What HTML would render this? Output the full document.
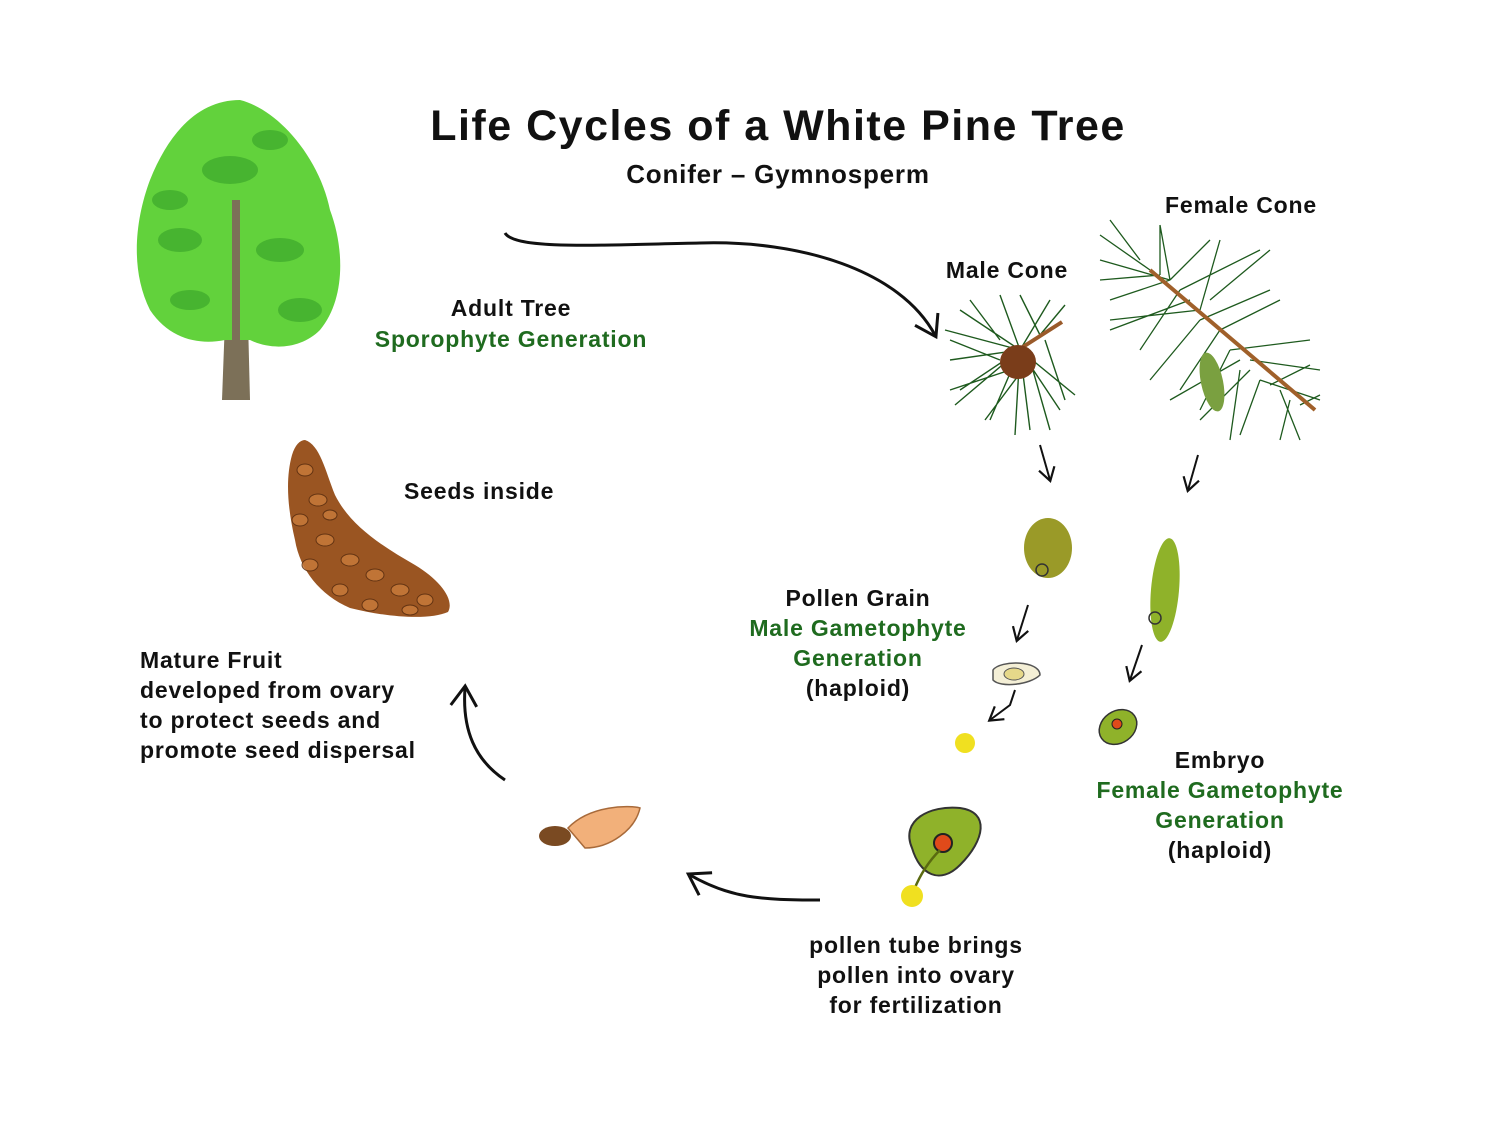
<!DOCTYPE html>
<html><head><meta charset="utf-8"><style>
html,body{margin:0;padding:0;background:#fff}
svg{display:block}
text{font-family:"Liberation Sans",sans-serif;fill:#111;letter-spacing:0.8px}
.g{fill:#1f6b1f}
</style></head><body>
<svg width="1500" height="1125" viewBox="0 0 1500 1125" xmlns="http://www.w3.org/2000/svg">
<defs>
<marker id="ahb" markerWidth="30" markerHeight="30" refX="20" refY="15" orient="auto" markerUnits="userSpaceOnUse" viewBox="0 0 30 30">
<path d="M2,2 L22,15 L2,28" fill="none" stroke="#111" stroke-width="3"/></marker>
<marker id="ahs" markerWidth="20" markerHeight="20" refX="14" refY="10" orient="auto" markerUnits="userSpaceOnUse" viewBox="0 0 20 20">
<path d="M2,2 L15,10 L2,18" fill="none" stroke="#111" stroke-width="2.2"/></marker>
</defs>

<!-- title -->
<text x="778" y="140" font-size="43" font-weight="bold" text-anchor="middle" style="letter-spacing:1.5px">Life Cycles of a White Pine Tree</text>
<text x="778" y="183" font-size="26" font-weight="bold" text-anchor="middle">Conifer – Gymnosperm</text>
<text x="1241" y="213" font-size="23" font-weight="bold" text-anchor="middle">Female Cone</text>
<text x="1007" y="278" font-size="23" font-weight="bold" text-anchor="middle">Male Cone</text>
<text x="511" y="316" font-size="23" font-weight="bold" text-anchor="middle">Adult Tree</text>
<text x="511" y="347" font-size="23" font-weight="bold" text-anchor="middle" class="g">Sporophyte Generation</text>
<text x="404" y="499" font-size="23" font-weight="bold">Seeds inside</text>
<g font-size="23" font-weight="bold" text-anchor="middle">
<text x="858" y="606">Pollen Grain</text>
<text x="858" y="636" class="g">Male Gametophyte</text>
<text x="858" y="666" class="g">Generation</text>
<text x="858" y="696">(haploid)</text>
<text x="1220" y="768">Embryo</text>
<text x="1220" y="798" class="g">Female Gametophyte</text>
<text x="1220" y="828" class="g">Generation</text>
<text x="1220" y="858">(haploid)</text>
<text x="916" y="953">pollen tube brings</text>
<text x="916" y="983">pollen into ovary</text>
<text x="916" y="1013">for fertilization</text>
</g>
<g font-size="23" font-weight="bold">
<text x="140" y="668">Mature Fruit</text>
<text x="140" y="698">developed from ovary</text>
<text x="140" y="728">to protect seeds and</text>
<text x="140" y="758">promote seed dispersal</text>
</g>

<!-- tree -->
<path d="M228,240 L246,240 L250,400 L222,400 Z" fill="#7c7058"/>
<path d="M240,100 C280,110 320,160 330,210 C345,250 345,300 320,330 C300,350 270,350 250,340 L225,340 C200,345 170,340 150,310 C130,270 135,220 150,180 C170,130 200,100 240,100Z" fill="#62d23c"/>
<g fill="#3faa2c" opacity=".75">
<ellipse cx="230" cy="170" rx="28" ry="14"/><ellipse cx="280" cy="250" rx="24" ry="12"/><ellipse cx="180" cy="240" rx="22" ry="12"/><ellipse cx="300" cy="310" rx="22" ry="12"/><ellipse cx="190" cy="300" rx="20" ry="10"/><ellipse cx="270" cy="140" rx="18" ry="10"/><ellipse cx="170" cy="200" rx="18" ry="10"/>
</g>
<path d="M236,200 L236,340" stroke="#7c7058" stroke-width="8"/>

<!-- big arrow top -->
<path d="M505,233 C515,250 600,245 700,243 C800,240 900,270 935,335" fill="none" stroke="#111" stroke-width="3" marker-end="url(#ahb)"/>

<!-- male cone branch -->
<g stroke="#1e5a1e" stroke-width="1.4" fill="none">
<path d="M1020,350 l-60,-40 M1020,350 l-70,10 M1020,350 l-60,40 M1020,350 l-30,70 M1020,350 l10,80 M1020,350 l40,60 M1020,350 l30,-50 M1020,350 l-20,-55 M1020,350 l-75,-20 M1020,350 l-65,55 M1020,350 l-5,85 M1020,350 l55,45 M1040,335 l-20,-40 M1040,335 l25,-30 M1030,360 l-45,60 M1030,360 l20,70 M1000,360 l-50,-20 M1010,370 l-60,20 M1045,340 l20,60 M1000,340 l-30,-40"/>
</g>
<path d="M1062,322 L1015,352" stroke="#9a5a2a" stroke-width="4"/>
<ellipse cx="1018" cy="362" rx="18" ry="17" fill="#7a3d1a"/>

<!-- female cone branch -->
<g stroke="#1e5a1e" stroke-width="1.3" fill="none">
<path d="M1170,280 l-70,-20 M1170,280 l-60,20 M1170,280 l-10,-55 M1170,280 l40,-40 M1200,320 l-50,60 M1200,320 l70,-30 M1230,350 l-30,60 M1230,350 l80,-10 M1260,380 l-20,55 M1260,380 l60,20 M1150,270 l-50,-35 M1210,300 l60,-50 M1250,360 l70,10 M1240,370 l-10,70 M1190,300 l-80,30 M1280,390 l20,50 M1160,275 l-60,5 M1180,290 l-40,60 M1180,290 l80,-40 M1220,330 l60,-30 M1220,330 l-40,60 M1250,370 l-50,50 M1270,385 l40,-20 M1290,400 l-10,40 M1140,260 l-30,-40 M1200,310 l-90,10 M1240,360 l-70,40 M1300,405 l20,-10 M1200,310 l20,-70 M1160,275 l0,-50"/>
</g>
<path d="M1150,270 L1315,410" stroke="#a0602a" stroke-width="4"/>
<ellipse cx="1212" cy="382" rx="11" ry="30" fill="#7aa040" transform="rotate(-12 1212 382)"/>

<!-- small arrows -->
<g stroke="#111" stroke-width="2" fill="none" marker-end="url(#ahs)">
<path d="M1040,445 L1050,480"/>
<path d="M1198,455 L1188,490"/>
<path d="M1028,605 L1017,640"/>
<path d="M1142,645 L1130,680"/>
<path d="M1015,690 L1010,705 L990,720"/>
</g>

<!-- gametophytes -->
<ellipse cx="1048" cy="548" rx="24" ry="30" fill="#9a9a28"/>
<circle cx="1042" cy="570" r="6" fill="none" stroke="#333" stroke-width="1.5"/>
<ellipse cx="1165" cy="590" rx="14" ry="52" fill="#8fb22a" transform="rotate(5 1165 590)"/>
<circle cx="1155" cy="618" r="6" fill="none" stroke="#333" stroke-width="1.5"/>
<path d="M993,670 C1000,660 1040,660 1040,675 C1030,685 1000,688 993,680Z" fill="#f4efd6" stroke="#555" stroke-width="1.5"/>
<ellipse cx="1014" cy="674" rx="10" ry="6" fill="#e6d88a" stroke="#555"/>
<circle cx="965" cy="743" r="10" fill="#f0e020"/>
<ellipse cx="1118" cy="727" rx="20" ry="16" fill="#8fb22a" stroke="#333" stroke-width="1.5" transform="rotate(-35 1118 727)"/>
<circle cx="1117" cy="724" r="5" fill="#e04a1a" stroke="#222"/>
<path d="M912,848 C900,820 930,805 960,808 C990,812 985,840 960,865 C940,885 920,875 912,848Z" fill="#8fb22a" stroke="#333" stroke-width="2"/>
<ellipse cx="943" cy="843" rx="9" ry="9" fill="#e04a1a" stroke="#222" stroke-width="2"/>
<path d="M940,850 C925,865 918,880 914,890" stroke="#5a6a10" stroke-width="2.5" fill="none"/>
<circle cx="912" cy="896" r="11" fill="#f0e020"/>

<!-- bottom arrows -->
<path d="M820,900 C760,900 730,898 690,875" fill="none" stroke="#111" stroke-width="3" marker-end="url(#ahb)"/>
<path d="M505,780 C475,760 462,730 465,688" fill="none" stroke="#111" stroke-width="3" marker-end="url(#ahb)"/>

<!-- seed -->
<path d="M568,828 C590,805 630,805 640,808 C635,830 610,848 585,848 Z" fill="#f2b07a" stroke="#a86a3a" stroke-width="1.5"/>
<ellipse cx="555" cy="836" rx="16" ry="10" fill="#7a4a22"/>

<!-- seed cone -->
<path d="M305,440 C320,445 325,470 335,495 C350,525 380,545 415,565 C440,580 455,600 448,612 C430,620 390,618 350,608 C320,595 300,570 295,540 C288,510 285,480 292,455 C295,445 300,440 305,440Z" fill="#9a5522"/>
<g fill="#c77a3a" opacity=".85" stroke="#5a2e10" stroke-width="1">
<ellipse cx="305" cy="470" rx="8" ry="6"/><ellipse cx="318" cy="500" rx="9" ry="6"/><ellipse cx="300" cy="520" rx="8" ry="6"/><ellipse cx="325" cy="540" rx="9" ry="6"/><ellipse cx="350" cy="560" rx="9" ry="6"/><ellipse cx="310" cy="565" rx="8" ry="6"/><ellipse cx="375" cy="575" rx="9" ry="6"/><ellipse cx="340" cy="590" rx="8" ry="6"/><ellipse cx="400" cy="590" rx="9" ry="6"/><ellipse cx="370" cy="605" rx="8" ry="6"/><ellipse cx="425" cy="600" rx="8" ry="6"/><ellipse cx="410" cy="610" rx="8" ry="5"/><ellipse cx="330" cy="515" rx="7" ry="5"/>
</g>
</svg>
</body></html>
